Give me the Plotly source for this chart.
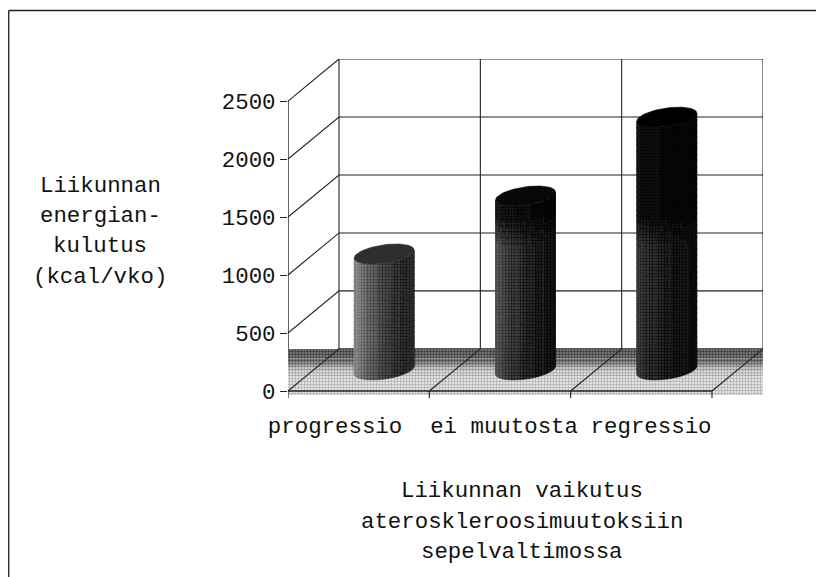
import math
import numpy as np
import plotly.graph_objects as go

# --- data ---
categories = ["progressio", "ei muutosta", "regressio"]
values = [1000, 1500, 2180]
y_ticks = [0, 500, 1000, 1500, 2000, 2500]
label_positions = [0.333, 1.529, 2.569]
y_title_lines = ["Liikunnan", "energian-", "kulutus", "(kcal/vko)"]
x_title_lines = ["Liikunnan vaikutus", "ateroskleroosimuutoksiin", "sepelvaltimossa"]

# --- styling ---
# the page has an 8 px body margin, so figure pixels = target pixels - 8
OFF = 8
W, H = 824 - OFF, 577 - OFF
L, R, T, B = 288 - OFF, 61, 59 - OFF, 179
DEPTH_X, DEPTH_Y = 0.361, 363
X_MAX, Y_MIN, Y_MAX = 3.361, -60.4, 2863
FONT = "Liberation Mono, Courier New, monospace"
TEXT_SIZE = 22.4
INK = "#222222"
left_gray = [135, 80, 54]
right_gray = [40, 18, 14]
cap_gray = [46, 8, 0]
floor_bands = [(363, 320, 92), (320, 280, 98), (280, 250, 110), (250, 225, 132), (225, 200, 158),
               (200, 170, 182), (170, 130, 198), (130, -35, 208)]

px_x = (W - L - R) / X_MAX
px_y = (H - T - B) / (Y_MAX - Y_MIN)
RAD_X, SKEW_X, SKEW_Y = 27.5 / px_x, 12 / px_x, 10 / px_y

fig = go.Figure()


def line(xs, ys, color=INK, width=1.1):
    fig.add_trace(go.Scatter(x=xs, y=ys, mode="lines", cliponaxis=False,
                             line=dict(color=color, width=width),
                             hoverinfo="skip", showlegend=False))


def halftone(g, spread=40):
    lo = max(g - spread, 0)
    hi = min(g + spread, 255)
    return dict(shape=".", size=3, solidity=0.5, fgcolor=f"rgb({lo},{lo},{lo})",
                bgcolor=f"rgb({hi},{hi},{hi})", fillmode="replace")


# back wall and left wall
for v in y_ticks:
    line([0, DEPTH_X, DEPTH_X + 3], [v, v + DEPTH_Y, v + DEPTH_Y])
for i in range(4):
    line([DEPTH_X + i, DEPTH_X + i], [DEPTH_Y, DEPTH_Y + y_ticks[-1]])
line([0, 0], [0, y_ticks[-1]], width=1.4)

# floor
for y0, y1, g in floor_bands:
    fig.add_trace(go.Scatter(x=[-0.007, X_MAX, X_MAX, -0.007, -0.007], y=[y0, y0, y1, y1, y0],
                             mode="lines", fill="toself", fillcolor=f"rgb({g},{g},{g})",
                             fillpattern=halftone(g, 35),
                             line=dict(width=0), cliponaxis=False,
                             hoverinfo="skip", showlegend=False))
for i in range(4):
    line([i, i + DEPTH_X], [0, DEPTH_Y])
    line([i, i], [0, -60])
line([0, 3], [0, 0], width=1.6)


def darken(value):
    f = min(max((value - 1100) / 250, 0), 1)
    return 1 - 0.7 * f


# cylinders, grouped into one polygon trace per grey level
t0 = math.atan2(SKEW_X, RAD_X)
angles = np.linspace(t0 + math.pi, t0 + 2 * math.pi, 25)
polys = {}
for k, v in enumerate(values):
    cx = k + 0.5 + DEPTH_X / 2
    cy = DEPTH_Y / 2
    xs = cx + RAD_X * np.cos(angles) + SKEW_X * np.sin(angles)
    ys = SKEW_Y * np.sin(angles)
    heights = np.linspace(0, v, int(v / 50) + 1)
    for i in range(len(angles) - 1):
        s = (0.5 * (xs[i] + xs[i + 1]) - (cx - RAD_X * 1.09)) / (2 * RAD_X * 1.09)
        base = right_gray[k] + (left_gray[k] - right_gray[k]) * (1 - s) ** 2
        for j in range(len(heights) - 1):
            g = int(round(base * darken(heights[j]) / 6) * 6)
            p = polys.setdefault(g, ([], []))
            p[0].extend([xs[i], xs[i + 1], xs[i + 1], xs[i], xs[i], None])
            p[1].extend([cy + ys[i] + heights[j], cy + ys[i + 1] + heights[j],
                         cy + ys[i + 1] + heights[j + 1], cy + ys[i] + heights[j + 1],
                         cy + ys[i] + heights[j], None])
for g, (px, py) in sorted(polys.items()):
    c = f"rgb({g},{g},{g})"
    fig.add_trace(go.Scatter(x=px, y=py, mode="lines", fill="toself", fillcolor=c,
                             fillpattern=halftone(g, min(g, 30)),
                             line=dict(color=c, width=0.6), hoverinfo="skip", showlegend=False))
circle = np.linspace(0, 2 * math.pi, 73)
for k, v in enumerate(values):
    cx = k + 0.5 + DEPTH_X / 2
    c = f"rgb({cap_gray[k]},{cap_gray[k]},{cap_gray[k]})"
    fig.add_trace(go.Scatter(
        x=cx + RAD_X * np.cos(circle) + SKEW_X * np.sin(circle),
        y=DEPTH_Y / 2 + v + SKEW_Y * np.sin(circle),
        mode="lines", fill="toself", fillcolor=c, line=dict(color=c, width=0.6),
        hoverinfo="skip", showlegend=False))

fig.update_xaxes(range=[0, X_MAX], showgrid=False, zeroline=False, showline=False,
                 tickmode="array", tickvals=label_positions, ticktext=categories,
                 tickangle=0, ticks="outside", ticklen=7, tickcolor="rgba(0,0,0,0)",
                 tickfont=dict(family=FONT, size=TEXT_SIZE, color="#111111"))
fig.update_yaxes(range=[Y_MIN, Y_MAX], showgrid=False, zeroline=False, showline=False,
                 tickmode="array", tickvals=y_ticks, ticks="outside", ticklen=7,
                 tickcolor=INK, tickfont=dict(family=FONT, size=TEXT_SIZE, color="#111111"))


def note(text, x_px, y_px):
    fig.add_annotation(text=text, xref="paper", yref="paper", showarrow=False,
                       x=(x_px - OFF - L) / (W - L - R), y=1 - (y_px - OFF - T) / (H - T - B),
                       xanchor="center", yanchor="middle",
                       font=dict(family=FONT, size=TEXT_SIZE, color="#111111"))


for text, y_px in zip(y_title_lines, [186, 216, 246, 277]):
    note(text, 100, y_px)
for text, y_px in zip(x_title_lines, [491, 522, 552]):
    note(text, 521.5, y_px)

# outer frame: top edge and left edge
left_p, right_p = (0.7 - L) / (W - L - R), (W - L) / (W - L - R)
top_p, bottom_p = 1 - (2.5 - T) / (H - T - B), 1 - (H - T) / (H - T - B)
fig.add_shape(type="line", xref="paper", yref="paper", x0=left_p, x1=right_p, y0=top_p, y1=top_p,
              line=dict(color=INK, width=1.3))
fig.add_shape(type="line", xref="paper", yref="paper", x0=left_p, x1=left_p, y0=top_p, y1=bottom_p,
              line=dict(color=INK, width=1.3))

fig.update_layout(width=W, height=H, margin=dict(l=L, r=R, t=T, b=B, autoexpand=False),
                  paper_bgcolor="white", plot_bgcolor="white", showlegend=False)
fig.write_html("out.html")
